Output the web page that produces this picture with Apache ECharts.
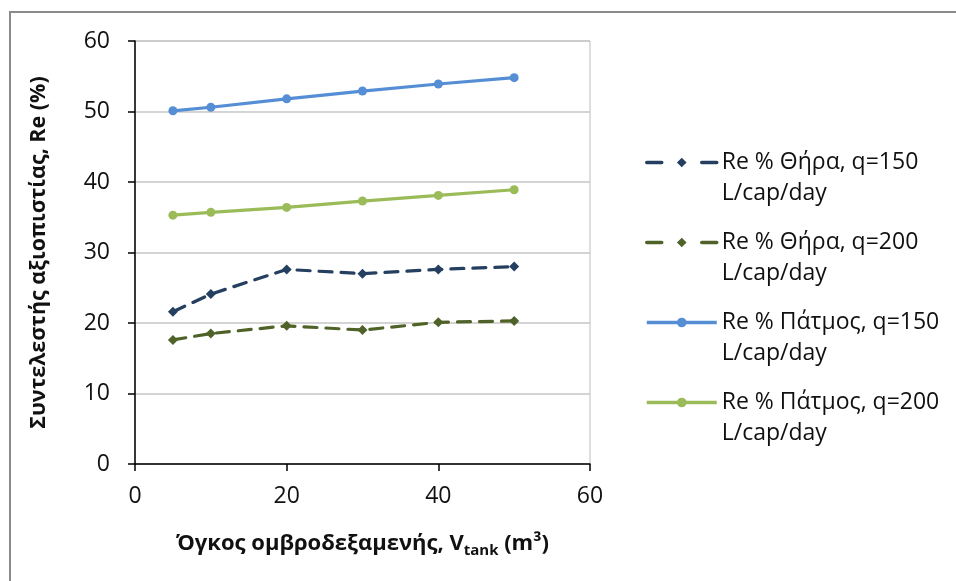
<!DOCTYPE html>
<html>
<head>
<meta charset="utf-8">
<script src="https://cdn.jsdelivr.net/npm/echarts@6/dist/echarts.min.js"></script>
<style>
  html, body { margin: 0; padding: 0; background: #fff; }
  #chart { width: 956px; height: 581px; }
</style>
</head>
<body>
<div id="chart"></div>
<script>
// Tank volume (m³) on the x axis
const tankVolumes = [5, 10, 20, 30, 40, 50];

// Reliability coefficient Re (%) per island and per capita demand
const theraQ150 = [21.6, 24.1, 27.6, 27.0, 27.6, 28.0];
const theraQ200 = [17.6, 18.5, 19.6, 19.0, 20.1, 20.3];
const patmosQ150 = [50.1, 50.6, 51.8, 52.9, 53.9, 54.8];
const patmosQ200 = [35.3, 35.7, 36.4, 37.3, 38.1, 38.9];

const seriesNames = [
  'Re % Θήρα, q=150\nL/cap/day',
  'Re % Θήρα, q=200\nL/cap/day',
  'Re % Πάτμος, q=150\nL/cap/day',
  'Re % Πάτμος, q=200\nL/cap/day'
];
const dashedFlags = [true, true, false, false];

const FONT = '"Open Sans", "Noto Sans", sans-serif';

function pairs(values) {
  return tankVolumes.map((v, i) => [v, values[i]]);
}

function lineSeries(name, values, color, dashed, symbol) {
  return {
    name: name,
    type: 'line',
    data: pairs(values),
    symbol: symbol,
    symbolSize: symbol === 'circle' ? 9 : 10,
    showSymbol: true,
    itemStyle: { color: color },
    lineStyle: {
      color: color,
      width: 3.2,
      type: dashed ? [13, 9] : 'solid',
      cap: dashed ? 'round' : 'butt'
    },
    animation: false
  };
}

const chart = echarts.init(document.getElementById('chart'), null, { renderer: 'canvas' });

chart.setOption({
  backgroundColor: '#ffffff',
  animation: false,
  textStyle: { fontFamily: FONT },
  graphic: [{
    type: 'rect',
    silent: true,
    shape: { x: 10, y: 12, width: 1200, height: 1200 },
    style: { fill: 'none', stroke: '#8a8a8a', lineWidth: 2 }
  }],
  grid: {
    left: 135,
    right: 366,
    top: 41,
    bottom: 117,
    show: true,
    borderColor: '#bdbdbd',
    borderWidth: 1,
    containLabel: false
  },
  legend: {
    orient: 'vertical',
    left: 645,
    top: 116,
    padding: 0,
    itemGap: -13,
    itemWidth: 70,
    itemHeight: 12,
    selectedMode: false,
    // a leading blank line keeps the first text line level with the icon
    formatter: name => '\n' + name,
    textStyle: {
      fontFamily: FONT,
      fontSize: 23,
      color: '#111',
      lineHeight: 31
    },
    data: seriesNames.map((n, i) => ({
      name: n,
      lineStyle: dashedFlags[i] ? { type: [15, 40], width: 3.5 } : { type: 'solid', width: 3.5 }
    }))
  },
  xAxis: {
    type: 'value',
    min: 0,
    max: 60,
    interval: 20,
    name: 'Όγκος ομβροδεξαμενής, V{sub|tank} (m³)',
    nameLocation: 'middle',
    nameGap: 66,
    nameTextStyle: {
      fontFamily: FONT,
      fontSize: 22,
      fontWeight: 'bold',
      color: '#111',
      rich: {
        sub: {
          fontFamily: FONT,
          fontSize: 15,
          fontWeight: 'bold',
          color: '#111',
          verticalAlign: 'bottom',
          padding: [13, 0, 0, 0]
        }
      }
    },
    axisLine: { show: true, onZero: false, lineStyle: { color: '#000', width: 1.5 } },
    axisTick: { show: true, inside: false, length: 7, lineStyle: { color: '#000', width: 1.5 } },
    axisLabel: { fontFamily: FONT, fontSize: 23, color: '#111', margin: 21 },
    splitLine: { show: false }
  },
  yAxis: {
    type: 'value',
    min: 0,
    max: 60,
    interval: 10,
    name: 'Συντελεστής αξιοπιστίας, Re (%)',
    nameLocation: 'middle',
    nameGap: 85,
    nameTextStyle: {
      fontFamily: FONT,
      fontSize: 21.5,
      fontWeight: 'bold',
      color: '#111'
    },
    axisLine: { show: true, onZero: false, lineStyle: { color: '#000', width: 1.5 } },
    axisTick: { show: true, inside: false, length: 7, lineStyle: { color: '#000', width: 1.5 } },
    axisLabel: { fontFamily: FONT, fontSize: 23, color: '#111', margin: 25 },
    splitLine: { show: true, lineStyle: { color: '#c6c6c6', width: 1.5 } }
  },
  series: [
    lineSeries(seriesNames[0], theraQ150, '#243F60', true, 'diamond'),
    lineSeries(seriesNames[1], theraQ200, '#4F6228', true, 'diamond'),
    lineSeries(seriesNames[2], patmosQ150, '#558ED5', false, 'circle'),
    lineSeries(seriesNames[3], patmosQ200, '#9BBB59', false, 'circle')
  ]
});
</script>
</body>
</html>
